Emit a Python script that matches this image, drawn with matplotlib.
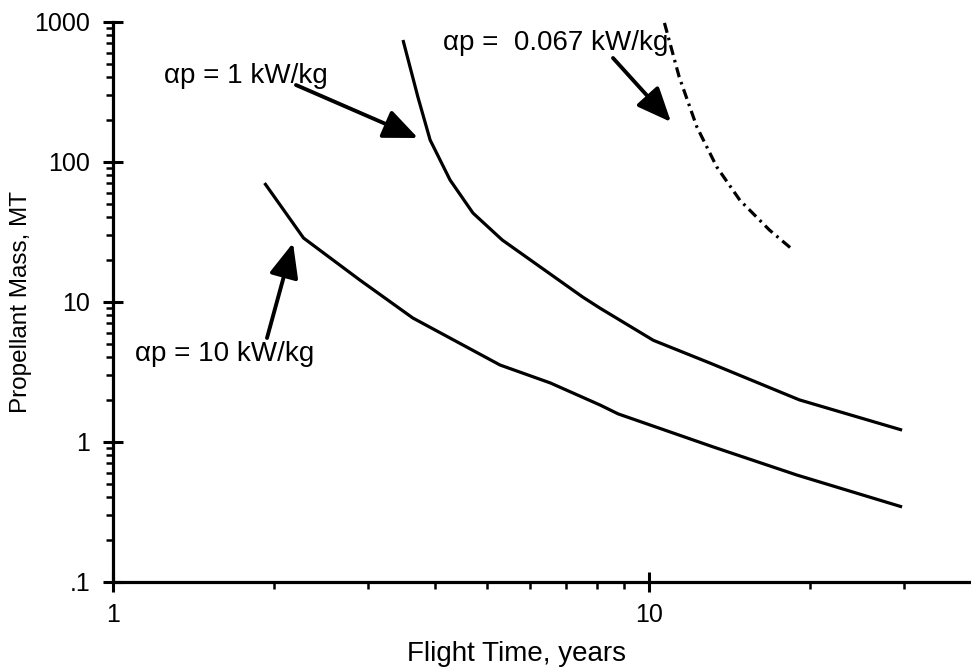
import matplotlib
matplotlib.use("Agg")
import matplotlib.pyplot as plt
from matplotlib.ticker import FixedLocator, NullFormatter

plt.rcParams['font.family'] = ['Liberation Sans', 'DejaVu Sans']

# Data
t_10 = [1.92, 2.27, 2.89, 3.63, 5.28, 6.55, 8.11, 8.77, 13.2, 18.9, 29.7]
m_10 = [70.4, 28.5, 14.3, 7.65, 3.53, 2.63, 1.83, 1.58, 0.917, 0.578, 0.342]

t_1 = [3.48, 3.71, 3.91, 4.26, 4.70, 5.33, 7.53, 8.11, 10.2, 13.0, 19.1, 29.7]
m_1 = [740, 290, 143, 74, 43, 27.6, 10.8, 9.0, 5.3, 3.65, 1.99, 1.21]

t_067 = [10.7, 11.4, 12.3, 13.4, 14.8, 16.8, 18.4]
m_067 = [980, 403, 177, 91.6, 53, 32.5, 24.2]

ytick_vals = [0.1, 1, 10, 100, 1000]
ytick_labels = ['.1', '1', '10', '100', '1000']
xtick_vals = [1, 10]
xtick_labels = ['1', '10']

W, H = 971, 667
fig = plt.figure(figsize=(W / 100, H / 100), dpi=100)
left, right = 112.7, 971.4
top, bottom = 21.7, 581.7
ax = fig.add_axes([left / W, 1 - bottom / H, (right - left) / W, (bottom - top) / H])

lw = 2.3
ax.plot(t_10, m_10, color='black', lw=lw, solid_capstyle='butt')
ax.plot(t_1, m_1, color='black', lw=lw, solid_capstyle='butt')
ax.plot(t_067, m_067, color='black', lw=lw, dashes=(3.2, 1.6, 0.8, 1.6))

ax.set_xscale('log')
ax.set_yscale('log')
ax.set_xlim(1, 40)
ax.set_ylim(0.1, 1000)

ax.spines['top'].set_visible(False)
ax.spines['right'].set_visible(False)
for s in ('left', 'bottom'):
    ax.spines[s].set_linewidth(2.3)

ax.set_yticks(ytick_vals)
ax.set_yticklabels(ytick_labels)
ax.set_xticks(xtick_vals)
ax.set_xticklabels(xtick_labels)
ax.yaxis.set_minor_locator(FixedLocator([m * 10**e for e in range(-1, 3) for m in range(2, 10)]))
ax.xaxis.set_minor_locator(FixedLocator([2, 3, 4, 5, 6, 7, 8, 9, 20, 30]))
ax.xaxis.set_minor_formatter(NullFormatter())
ax.yaxis.set_minor_formatter(NullFormatter())

ax.tick_params(which='major', direction='inout', length=14, width=2.2, labelsize=18)
ax.tick_params(which='minor', direction='out', length=5, width=1.8)
ax.tick_params(axis='y', which='major', pad=9)
ax.tick_params(axis='x', which='major', pad=8)

ax.set_xlabel('Flight Time, years', fontsize=20)
ax.set_ylabel('Propellant Mass, MT', fontsize=17.5)
ax.xaxis.set_label_coords(0.4697, -0.106)
ax.yaxis.set_label_coords(-0.094, 0.5)


def px2data(px, py):
    return ax.transData.inverted().transform(fig.transFigure.transform((px / W, 1 - py / H)))


def annotate(text, tx, ty, x0, y0, x1, y1, ha='left'):
    tail = px2data(x0, y0)
    tip = px2data(x1, y1)
    ax.annotate('', xy=tip, xytext=tail,
                arrowprops=dict(arrowstyle='-|>,head_length=2.1,head_width=0.9',
                                color='black', lw=2.8, shrinkA=0, shrinkB=0))
    fig.text(tx / W, 1 - ty / H, text, fontsize=20, ha=ha, va='center')


annotate('\u03b1p = 1 kW/kg', 164, 76, 296, 85, 418, 138)
annotate('\u03b1p =  0.067 kW/kg', 443, 43, 613, 58, 671, 122)
annotate('\u03b1p = 10 kW/kg', 135, 354, 267, 338, 293, 243)

fig.savefig('out.png', dpi=100)
